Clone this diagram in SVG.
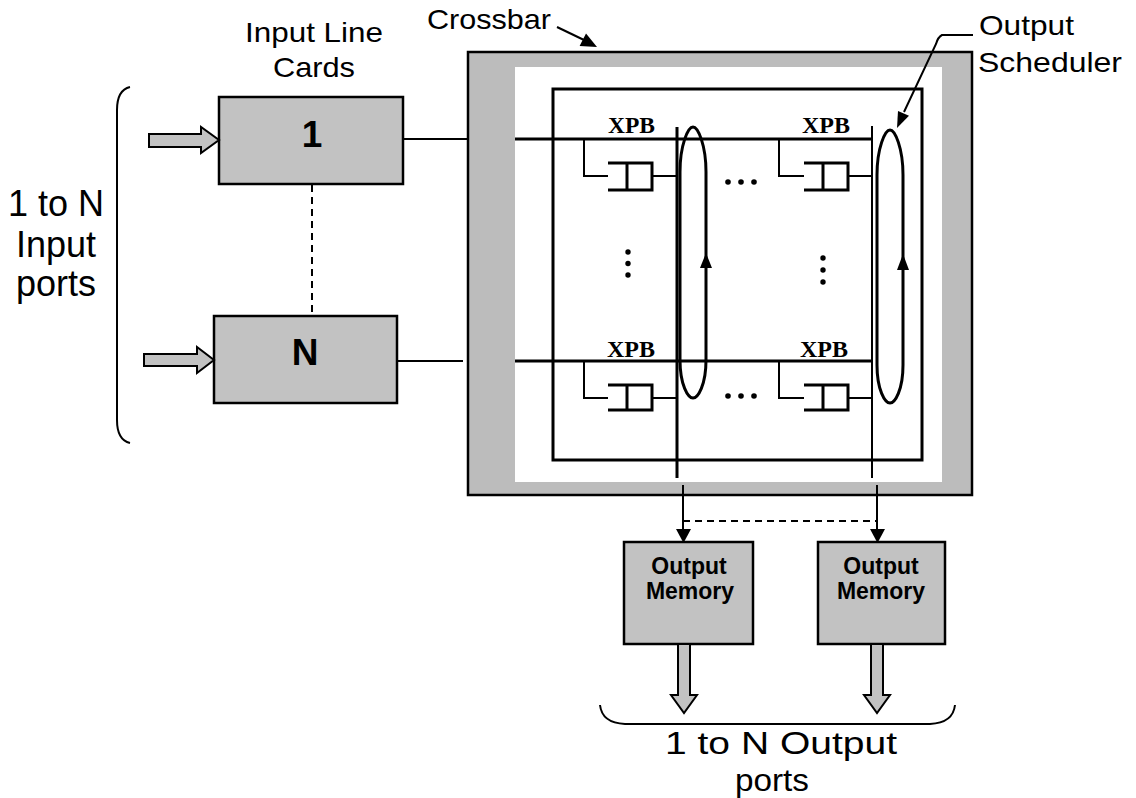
<svg xmlns="http://www.w3.org/2000/svg" width="1136" height="798" viewBox="0 0 1136 798">
<style>
.lbl{font-family:"Liberation Sans",Arial,sans-serif;fill:#000}
.big{font-size:28px}
.port{font-size:36px}
.oport{font-size:32px}
.num{font-size:37px;font-weight:bold;text-anchor:middle}
.mem{font-size:23px;font-weight:bold;text-anchor:middle}
.xpb{font-family:"Liberation Serif","Times New Roman",serif;font-size:24px;font-weight:bold;fill:#000}
.box{fill:#c2c2c2;stroke:#000;stroke-width:2.5}
.blk{fill:#c2c2c2;stroke:#000;stroke-width:2}
.ln{fill:none;stroke:#000;stroke-width:2}
.thick{fill:none;stroke:#000;stroke-width:3}
.dash{fill:none;stroke:#000;stroke-width:2;stroke-dasharray:7 5}
.dot{fill:#000}
</style>
<rect width="1136" height="798" fill="#fff"/>

<!-- Labels -->
<g id="labels">
  <text class="lbl big" x="245" y="42" textLength="138" lengthAdjust="spacingAndGlyphs">Input Line</text>
  <text class="lbl big" x="273" y="77" textLength="82" lengthAdjust="spacingAndGlyphs">Cards</text>
  <text class="lbl big" x="427" y="29" textLength="124" lengthAdjust="spacingAndGlyphs">Crossbar</text>
  <text class="lbl big" x="979" y="35" textLength="95" lengthAdjust="spacingAndGlyphs">Output</text>
  <text class="lbl big" x="978" y="72" textLength="144" lengthAdjust="spacingAndGlyphs">Scheduler</text>
  <text class="lbl port" x="56" y="216" text-anchor="middle">1 to N</text>
  <text class="lbl port" x="56" y="257" text-anchor="middle">Input</text>
  <text class="lbl port" x="56" y="296" text-anchor="middle">ports</text>
  <text class="lbl oport" x="665" y="754" textLength="232" lengthAdjust="spacingAndGlyphs">1 to N Output</text>
  <text class="lbl oport" x="772" y="791" text-anchor="middle" textLength="74" lengthAdjust="spacingAndGlyphs">ports</text>
</g>

<!-- Braces -->
<g id="braces">
  <path class="ln" d="M130,87 Q117,90 117,110 L117,420 Q117,440 130,443"/>
  <path class="ln" d="M600,705 Q602,723 625,724 L930,724 Q953,723 955,705"/>
</g>

<!-- Crossbar -->
<g id="crossbar">
  <rect x="468" y="52" width="504" height="443" fill="#bcbcbc" stroke="#000" stroke-width="2.5"/>
  <rect x="515" y="67" width="427" height="415" fill="#fff"/>
  <rect x="553" y="89" width="369" height="371" class="thick"/>
  <!-- rows -->
  <line x1="515" y1="139" x2="873" y2="139" class="thick"/>
  <line x1="515" y1="361" x2="873" y2="361" class="thick"/>
  <!-- columns -->
  <line x1="677" y1="127" x2="677" y2="478" class="thick"/>
  <line x1="872" y1="126" x2="872" y2="478" class="ln"/>
  <!-- XPB labels -->
  <text class="xpb" x="608" y="133" textLength="47" lengthAdjust="spacingAndGlyphs">XPB</text>
  <text class="xpb" x="802" y="133" textLength="48" lengthAdjust="spacingAndGlyphs">XPB</text>
  <text class="xpb" x="607" y="357" textLength="48" lengthAdjust="spacingAndGlyphs">XPB</text>
  <text class="xpb" x="800" y="357" textLength="48" lengthAdjust="spacingAndGlyphs">XPB</text>
  <!-- buffers -->
  <g id="buffer-1-1">
    <path class="ln" d="M584,139 L584,176 L608,176"/>
    <path class="thick" d="M608,163 L652,163 L652,190 L608,190 M627,163 L627,190"/>
    <path class="ln" d="M652,176 L677,176"/>
  </g>
  <g id="buffer-1-N">
    <path class="ln" d="M779,139 L779,176 L804,176"/>
    <path class="thick" d="M804,163 L848,163 L848,190 L804,190 M823,163 L823,190"/>
    <path class="ln" d="M848,176 L872,176"/>
  </g>
  <g id="buffer-N-1">
    <path class="ln" d="M584,361 L584,398 L608,398"/>
    <path class="thick" d="M608,385 L652,385 L652,410 L608,410 M627,385 L627,410"/>
    <path class="ln" d="M652,398 L677,398"/>
  </g>
  <g id="buffer-N-N">
    <path class="ln" d="M779,361 L779,398 L804,398"/>
    <path class="thick" d="M804,385 L848,385 L848,410 L804,410 M823,385 L823,410"/>
    <path class="ln" d="M848,398 L872,398"/>
  </g>
  <!-- dots -->
  <circle class="dot" cx="628" cy="252" r="2.7"/>
  <circle class="dot" cx="628" cy="263.5" r="2.7"/>
  <circle class="dot" cx="628" cy="275" r="2.7"/>
  <circle class="dot" cx="823" cy="258" r="2.7"/>
  <circle class="dot" cx="823" cy="270" r="2.7"/>
  <circle class="dot" cx="823" cy="282" r="2.7"/>
  <circle class="dot" cx="728" cy="182" r="2.8"/>
  <circle class="dot" cx="741" cy="182" r="2.8"/>
  <circle class="dot" cx="754" cy="182" r="2.8"/>
  <circle class="dot" cx="728" cy="396" r="2.8"/>
  <circle class="dot" cx="741" cy="396" r="2.8"/>
  <circle class="dot" cx="754" cy="396" r="2.8"/>
</g>

<!-- Output schedulers -->
<g id="scheduler-1">
  <path class="thick" d="M693,127 C698,127 706,145 706,172 L706,360 C706,385 698,398 693,398 C688,398 680,385 680,360 L680,172 C680,145 688,127 693,127 Z"/>
  <polygon class="dot" points="706,253 700,268 712,268"/>
</g>
<g id="scheduler-N">
  <path class="thick" d="M890,130 C895,130 903,148 903,175 L903,365 C903,390 895,403 890,403 C885,403 877,390 877,365 L877,175 C877,148 885,130 890,130 Z"/>
  <polygon class="dot" points="903,254 897,270 909,270"/>
</g>

<!-- Input line cards -->
<g id="input-card-1">
  <rect class="box" x="219" y="97" width="184" height="87"/>
  <text class="lbl num" x="312" y="147">1</text>
</g>
<g id="input-card-N">
  <rect class="box" x="214" y="316" width="183" height="87"/>
  <text class="lbl num" x="305" y="365">N</text>
</g>

<!-- Output memories -->
<g id="output-memory-1">
  <rect class="box" x="624" y="542" width="129" height="102"/>
  <text class="lbl mem" x="689" y="574">Output</text>
  <text class="lbl mem" x="690" y="599">Memory</text>
</g>
<g id="output-memory-N">
  <rect class="box" x="818" y="542" width="127" height="102"/>
  <text class="lbl mem" x="881" y="574">Output</text>
  <text class="lbl mem" x="881" y="599">Memory</text>
</g>

<!-- Connectors -->
<g id="connectors">
  <!-- input block arrows -->
  <path class="blk" d="M149,134 L201,134 L201,127 L219,140 L201,153 L201,147 L149,147 Z"/>
  <path class="blk" d="M144,354 L197,354 L197,347 L214,360 L197,373 L197,366 L144,366 Z"/>
  <!-- card to crossbar -->
  <line class="ln" x1="403" y1="139" x2="468" y2="139"/>
  <line class="ln" x1="397" y1="361" x2="463" y2="361"/>
  <!-- dashed between cards -->
  <line class="dash" x1="312" y1="185" x2="312" y2="316"/>
  <!-- crossbar to output memories -->
  <line class="ln" x1="683" y1="485" x2="683" y2="532"/>
  <polygon class="dot" points="676,529 691,529 683.5,543"/>
  <line class="ln" x1="877" y1="485" x2="877" y2="532"/>
  <polygon class="dot" points="870,529 885,529 877.5,543"/>
  <line class="dash" x1="683" y1="521" x2="877" y2="521"/>
  <!-- output block arrows -->
  <path class="blk" d="M678,644 L690,644 L690,695 L697,695 L684,713 L671,695 L678,695 Z"/>
  <path class="blk" d="M871,644 L883,644 L883,695 L890,695 L877,713 L864,695 L871,695 Z"/>
  <!-- label pointers -->
  <line class="ln" x1="557" y1="27" x2="584" y2="40"/>
  <polygon class="dot" points="597,47 579.6,46 586,33.5"/>
  <path class="ln" d="M973,35 L942,35 Q938,37 936,44 L904,112"/>
  <polygon class="dot" points="897,128 909,115.7 898,110.9"/>
</g>
</svg>
